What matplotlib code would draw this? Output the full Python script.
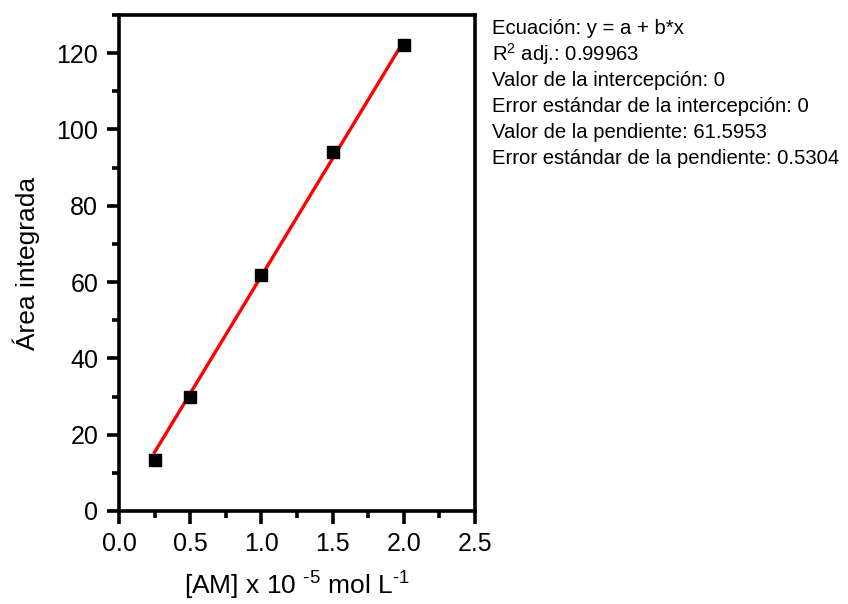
import numpy as np
import matplotlib
matplotlib.use("Agg")
import matplotlib.pyplot as plt
from matplotlib.ticker import MultipleLocator, FormatStrFormatter

plt.rcParams['font.family'] = ['Liberation Sans', 'DejaVu Sans']
plt.rcParams['mathtext.fontset'] = 'custom'
plt.rcParams['mathtext.rm'] = 'Liberation Sans'
plt.rcParams['mathtext.it'] = 'Liberation Sans'
plt.rcParams['mathtext.default'] = 'regular'

conc = [0.25, 0.5, 1.0, 1.5, 2.0]
area = [13.4, 30.0, 61.9, 94.1, 122.1]
slope = 61.5953
intercept = 0.0
info_lines = [
    "Ecuación: y = a + b*x",
    "R$^{2}$ adj.: 0.99963",
    "Valor de la intercepción: 0",
    "Error estándar de la intercepción: 0",
    "Valor de la pendiente: 61.5953",
    "Error estándar de la pendiente: 0.5304",
]

fig = plt.figure(figsize=(8.48, 6.04), dpi=100)
W, H = 848, 604
ax = fig.add_axes([119 / W, 1 - 511 / H, (475 - 119) / W, (511 - 15) / H])

xfit = np.array([conc[0], conc[-1]])
ax.plot(xfit, intercept + slope * xfit, color='red', lw=2.4, zorder=2)
ax.scatter(conc, area, marker='s', s=64, color='black', zorder=3)

ax.set_xlim(0, 2.5)
ax.set_ylim(0, 130)
ax.xaxis.set_major_locator(MultipleLocator(0.5))
ax.xaxis.set_minor_locator(MultipleLocator(0.25))
ax.yaxis.set_major_locator(MultipleLocator(20))
ax.yaxis.set_minor_locator(MultipleLocator(10))
ax.xaxis.set_major_formatter(FormatStrFormatter('%.1f'))
for s in ax.spines.values():
    s.set_linewidth(2.6)
ax.tick_params(which='major', direction='out', length=9, width=2.6, labelsize=18, pad=6)
ax.tick_params(which='minor', direction='out', length=5, width=2.6)
ax.tick_params(top=False, right=False, which='both')

ax.set_xlabel("[AM] x 10 $^{\\text{-5}}$ mol L$^{\\text{-1}}$", fontsize=19, labelpad=10)
ax.set_ylabel("Área integrada", fontsize=19, labelpad=12)

y0 = 28
for i, line in enumerate(info_lines):
    fig.text(492 / W, 1 - (y0 + i * 26) / H, line, fontsize=14.6, va='center', ha='left')

fig.savefig("out.png", dpi=100)
